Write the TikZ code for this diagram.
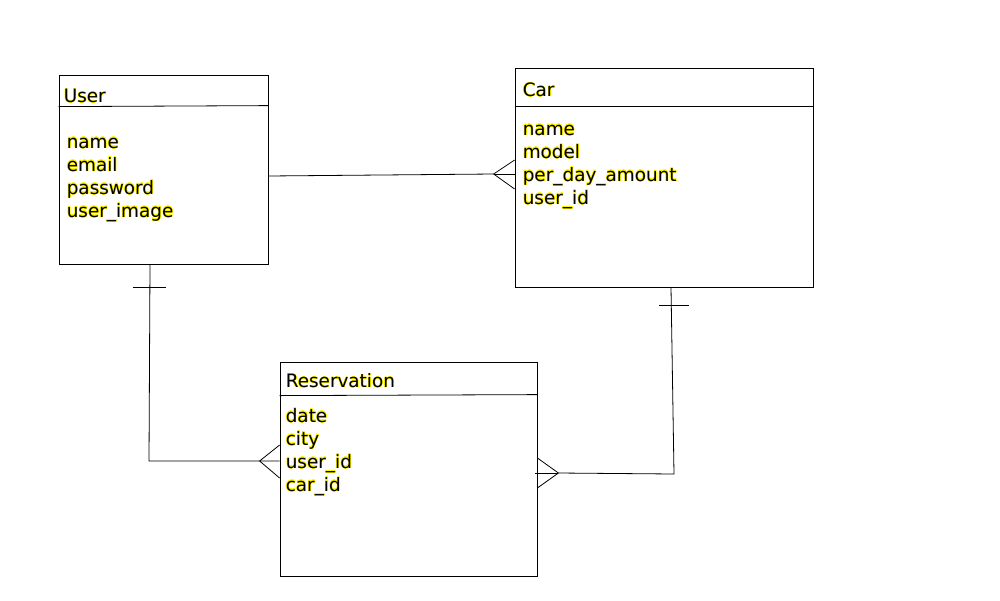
\documentclass[tikz,border=0pt]{standalone}
\usepackage{fontspec}
\setmainfont{DejaVu Sans}
\usepackage{contour}
\contourlength{0.35pt}
\usetikzlibrary{positioning, calc}
\newcommand{\hl}[1]{\contour{yellow}{#1}}

\begin{document}
\begin{tikzpicture}[x=1pt, y=-1pt,
    entity/.style={draw,rectangle,line width=0.8pt,inner sep=0pt},
    txt/.style={inner sep=0pt,anchor=base west,align=left,font=\fontsize{18.4}{23}\selectfont},
    rel/.style={line width=0.8pt}]
    \useasboundingbox (0,0) rectangle (1000,600);
    % entities
    \node (user) [entity,minimum width=209,minimum height=189] at (163.5,169.5) {};
    \node (car) [entity,minimum width=298,minimum height=219] at (664,177.5) {};
    \node (resv) [entity,minimum width=257,minimum height=214] at (408.5,469) {};
    % header lines
    \draw [rel] ([yshift=-32]user.north west) -- ([yshift=-31]user.north east);
    \draw [rel] ([yshift=-39]car.north west) -- ([yshift=-39]car.north east);
    \draw [rel] ([yshift=-34]resv.north west) -- ([yshift=-33]resv.north east);
    % titles
    \node (usert) [txt] at ([xshift=5,yshift=-28]user.north west) {\hl{User}};
    \node (cart) [txt] at ([xshift=8,yshift=-29]car.north west) {\hl{Car}};
    \node (resvt) [txt] at ([xshift=6,yshift=-26]resv.north west) {\hl{Reservation}};
    % attributes (base = last line)
    \node (usera) [txt] at ([xshift=8,yshift=-142.5]user.north west) {\hl{name}\\\hl{email}\\\hl{password}\\\hl{user\_image}};
    \node (cara) [txt] at ([xshift=8,yshift=-136.5]car.north west) {\hl{name}\\\hl{model}\\\hl{per\_day\_amount}\\\hl{user\_id}};
    \node (resva) [txt] at ([xshift=6,yshift=-129.5]resv.north west) {\hl{date}\\\hl{city}\\\hl{user\_id}\\\hl{car\_id}};
    % connector points
    \coordinate (userr) at ([yshift=-6.5]user.east);
    \coordinate (carl) at ([yshift=3.5]car.west);
    \coordinate (userb) at ([xshift=-13.5]user.south);
    \coordinate (carb) at ([xshift=7]car.south);
    \coordinate (resvl) at ([yshift=8]resv.west);
    \coordinate (resvr) at ([yshift=-4]resv.east);
    % user - car
    \draw [rel] (userr) -- ([xshift=-21]carl);
    \draw [rel] ([yshift=14]carl) -- ([xshift=-21]carl) -- ([yshift=-15]carl);
    \draw [rel] ([xshift=-21]carl) -- (carl);
    % user - reservation
    \draw [rel] (userb) -- ($(userb |- resvl)+(-1,0)$) -- (resvl);
    \draw [rel] ([xshift=-17,yshift=-23]userb) -- ([xshift=16,yshift=-23]userb);
    \draw [rel] ([yshift=16]resvl) -- ([xshift=-20]resvl) -- ([yshift=-17]resvl);
    % car - reservation
    \draw [rel] (carb) -- ($(carb |- resvr)+(3,1)$) -- ([xshift=21]resvr);
    \draw [rel] ([xshift=-2]resvr) -- ([xshift=21]resvr);
    \draw [rel] ([xshift=-12,yshift=-18]carb) -- ([xshift=18,yshift=-18]carb);
    \draw [rel] ([yshift=15]resvr) -- ([xshift=21]resvr) -- ([yshift=-15]resvr);
\end{tikzpicture}
\end{document}
